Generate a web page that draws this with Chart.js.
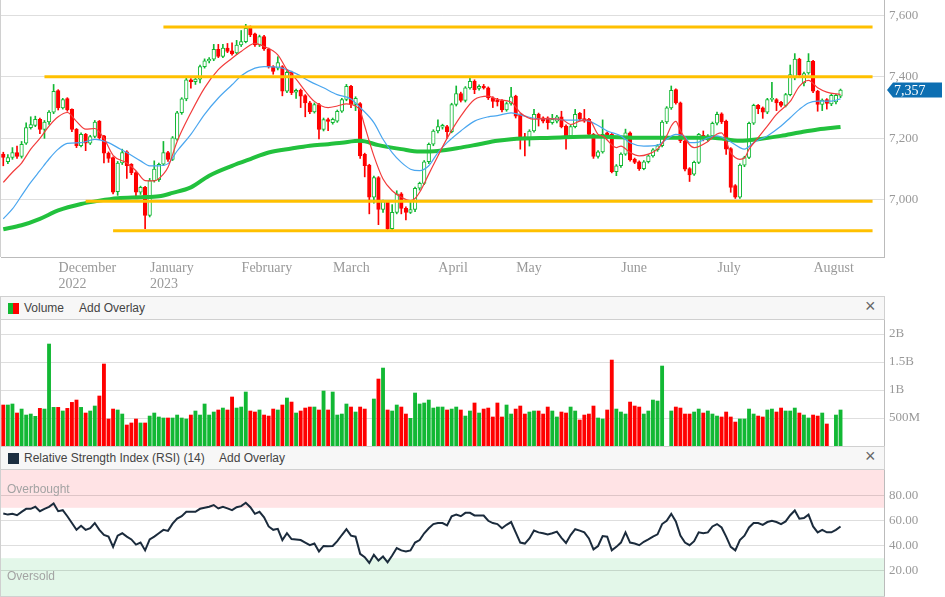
<!DOCTYPE html>
<html>
<head>
<meta charset="utf-8">
<title>S&amp;P/ASX 200 daily</title>
<script src="https://cdn.jsdelivr.net/npm/chart.js@4.4.1/dist/chart.umd.min.js"></script>
<style>
html, body { margin: 0; padding: 0; background: #fff; }
#page { position: relative; width: 945px; height: 597px; overflow: hidden; font-family: "Liberation Sans", Arial, sans-serif; }
canvas { position: absolute; left: 0; }
.head { position: absolute; left: 0; width: 885px; height: 24px; box-sizing: border-box; background: #f7f7f7; border: 1px solid #d0d0d0; font-size: 12px; color: #444; }
.head span { position: absolute; top: 4px; }
.icon { position: absolute; left: 7px; top: 6px; width: 11px; height: 11px; }
.head .close { left: 864px; top: -1px; font-size: 18px; color: #666; }
.zone { position: absolute; left: 7px; font-size: 12px; color: #a3a3a3; }
.edge { position: absolute; background: #d0d0d0; }
</style>
</head>
<body>
<div id="page">
  <canvas id="price" width="945" height="292" style="top:0"></canvas>
  <div class="edge" style="left:0;top:0;width:1px;height:257px"></div>

  <div class="head" style="top:296px">
    <div class="icon" style="background:linear-gradient(90deg,#12b834 50%,#ff0000 50%)"></div>
    <span style="left:23px">Volume</span>
    <span style="left:78px">Add Overlay</span>
    <span class="close">&times;</span>
  </div>
  <canvas id="volume" width="945" height="126" style="top:320px"></canvas>

  <div class="head" style="top:446px">
    <div class="icon" style="background:#1c2e40"></div>
    <span style="left:23px">Relative Strength Index (RSI) (14)</span>
    <span style="left:218px">Add Overlay</span>
    <span class="close">&times;</span>
  </div>
  <canvas id="rsi" width="945" height="126" style="top:470px"></canvas>
  <div class="zone" style="top:482px">Overbought</div>
  <div class="zone" style="top:569px">Oversold</div>
  <div class="edge" style="left:0;top:320px;width:1px;height:277px"></div>
  <div class="edge" style="left:0;top:596px;width:885px;height:1px"></div>
</div>

<script>
// trading days per month (last 9 August days are empty space on the right)
var monthKeys = ['2022-11', '2022-12', '2023-01', '2023-02', '2023-03', '2023-04', '2023-05', '2023-06', '2023-07', '2023-08'];
var monthDays = [
    [16, 17, 18, 21, 22, 23, 24, 25, 28, 29, 30],
    [1, 2, 5, 6, 7, 8, 9, 12, 13, 14, 15, 16, 19, 20, 21, 22, 23, 28, 29, 30],
    [3, 4, 5, 6, 9, 10, 11, 12, 13, 16, 17, 18, 19, 20, 23, 24, 25, 27, 30, 31],
    [1, 2, 3, 6, 7, 8, 9, 10, 13, 14, 15, 16, 17, 20, 21, 22, 23, 24, 27, 28],
    [1, 2, 3, 6, 7, 8, 9, 10, 13, 14, 15, 16, 17, 20, 21, 22, 23, 24, 27, 28, 29, 30, 31],
    [3, 4, 5, 6, 11, 12, 13, 14, 17, 18, 19, 20, 21, 24, 26, 27, 28],
    [1, 2, 3, 4, 5, 8, 9, 10, 11, 12, 15, 16, 17, 18, 19, 22, 23, 24, 25, 26, 29, 30, 31],
    [1, 2, 5, 6, 7, 8, 9, 13, 14, 15, 16, 19, 20, 21, 22, 23, 26, 27, 28, 29, 30],
    [3, 4, 5, 6, 7, 10, 11, 12, 13, 14, 17, 18, 19, 20, 21, 24, 25, 26, 27, 28, 31],
    [1, 2, 3, 4, 7, 8, 9, 10, 11, 14, 15, 16, 17, 18, 21, 22, 23]
];
var monthTicks = {
    '2022-12': ['December', '2022'], '2023-01': ['January', '2023'], '2023-02': 'February',
    '2023-03': 'March', '2023-04': 'April', '2023-05': 'May', '2023-06': 'June',
    '2023-07': 'July', '2023-08': 'August'
};
var yearStart = '2023-01';

var opens = [
    7149, 7124, 7138, 7154, 7141, 7184, 7235, 7242, 7262, 7229,
    7253, 7285, 7355, 7299, 7329, 7294, 7229, 7176, 7213, 7184,
    7206, 7256, 7208, 7152, 7138, 7027, 7120, 7156, 7116, 7089,
    7025, 7041, 6950, 7063, 7066, 7116, 7154, 7132, 7197, 7283,
    7328, 7390, 7384, 7392, 7433, 7451, 7457, 7489, 7466, 7493,
    7484, 7477, 7503, 7514, 7560, 7539, 7503, 7530, 7490, 7433,
    7428, 7433, 7353, 7414, 7350, 7356, 7339, 7315, 7286, 7310,
    7229, 7261, 7251, 7256, 7288, 7326, 7369, 7310, 7313, 7148,
    7113, 7009, 7073, 6969, 6995, 6907, 6960, 7020, 6973, 6960,
    6969, 7038, 7054, 7124, 7181, 7224, 7236, 7238, 7222, 7310,
    7345, 7323, 7364, 7385, 7362, 7369, 7364, 7331, 7324, 7323,
    7292, 7313, 7337, 7278, 7205, 7199, 7224, 7278, 7267, 7267,
    7251, 7256, 7270, 7240, 7208, 7238, 7281, 7264, 7262, 7213,
    7141, 7156, 7218, 7213, 7092, 7111, 7149, 7218, 7133, 7124,
    7102, 7124, 7143, 7163, 7176, 7253, 7299, 7358, 7315, 7192,
    7102, 7084, 7122, 7210, 7195, 7208, 7249, 7280, 7256, 7167,
    7047, 7009, 7113, 7138, 7249, 7307, 7299, 7285, 7326, 7326,
    7317, 7307, 7342, 7396, 7457, 7380, 7412, 7450, 7353, 7310,
    7326, 7312, 7318, 7337
];
var highs = [
    7155, 7147, 7170, 7175, 7190, 7250, 7270, 7272, 7266, 7258,
    7290, 7375, 7358, 7330, 7332, 7296, 7232, 7218, 7216, 7210,
    7258, 7258, 7210, 7156, 7140, 7125, 7165, 7160, 7118, 7092,
    7045, 7044, 7070, 7127, 7120, 7190, 7158, 7206, 7288, 7332,
    7395, 7394, 7398, 7438, 7458, 7462, 7505, 7505, 7505, 7508,
    7510, 7518, 7550, 7570, 7565, 7542, 7535, 7534, 7493, 7436,
    7465, 7436, 7420, 7418, 7360, 7360, 7342, 7320, 7315, 7314,
    7266, 7266, 7266, 7292, 7330, 7375, 7372, 7335, 7316, 7152,
    7116, 7078, 7076, 7000, 6998, 6985, 7030, 7024, 6978, 6998,
    7042, 7058, 7128, 7185, 7228, 7260, 7246, 7242, 7314, 7370,
    7350, 7368, 7395, 7390, 7374, 7375, 7367, 7335, 7330, 7326,
    7318, 7366, 7340, 7280, 7216, 7228, 7294, 7282, 7270, 7270,
    7278, 7275, 7288, 7244, 7242, 7294, 7284, 7294, 7265, 7216,
    7160, 7260, 7221, 7216, 7115, 7153, 7230, 7221, 7136, 7127,
    7128, 7147, 7167, 7180, 7258, 7303, 7370, 7361, 7318, 7195,
    7105, 7126, 7216, 7224, 7212, 7253, 7285, 7283, 7259, 7170,
    7050, 7117, 7142, 7253, 7311, 7310, 7302, 7330, 7382, 7329,
    7320, 7346, 7438, 7475, 7460, 7415, 7475, 7453, 7356, 7328,
    7329, 7344, 7344, 7360
];
var lows = [
    7111, 7118, 7132, 7135, 7136, 7180, 7230, 7238, 7215, 7200,
    7245, 7280, 7292, 7295, 7288, 7222, 7170, 7172, 7160, 7180,
    7202, 7196, 7120, 7122, 7020, 7015, 7115, 7070, 7082, 7010,
    7018, 6907, 6945, 7058, 7060, 7112, 7125, 7128, 7193, 7278,
    7322, 7363, 7375, 7380, 7428, 7445, 7452, 7462, 7462, 7478,
    7470, 7472, 7498, 7510, 7530, 7498, 7498, 7485, 7428, 7408,
    7422, 7338, 7348, 7342, 7330, 7300, 7270, 7280, 7282, 7198,
    7224, 7225, 7246, 7252, 7284, 7322, 7300, 7290, 7135, 7075,
    6955, 6990, 6920, 6960, 6904, 6903, 6955, 6955, 6935, 6956,
    6962, 7032, 7050, 7118, 7176, 7218, 7230, 7200, 7218, 7305,
    7318, 7318, 7360, 7345, 7356, 7360, 7326, 7300, 7305, 7286,
    7288, 7308, 7266, 7165, 7143, 7175, 7220, 7240, 7250, 7230,
    7246, 7250, 7234, 7165, 7204, 7234, 7258, 7252, 7208, 7135,
    7136, 7152, 7204, 7088, 7079, 7106, 7145, 7126, 7118, 7096,
    7098, 7120, 7139, 7158, 7172, 7248, 7294, 7311, 7186, 7094,
    7060, 7080, 7118, 7192, 7190, 7204, 7244, 7248, 7148, 7025,
    7005, 7005, 7108, 7134, 7245, 7280, 7265, 7280, 7320, 7290,
    7302, 7302, 7338, 7390, 7400, 7370, 7408, 7348, 7288, 7290,
    7295, 7306, 7312, 7332
];
var closes = [
    7138, 7138, 7154, 7141, 7181, 7235, 7245, 7262, 7229, 7253,
    7285, 7353, 7299, 7326, 7292, 7229, 7176, 7213, 7184, 7206,
    7253, 7202, 7152, 7135, 7025, 7120, 7154, 7111, 7089, 7025,
    7041, 6950, 7063, 7100, 7116, 7154, 7132, 7202, 7283, 7328,
    7390, 7384, 7392, 7433, 7452, 7457, 7489, 7466, 7493, 7482,
    7474, 7503, 7514, 7557, 7536, 7503, 7530, 7490, 7433, 7417,
    7446, 7353, 7414, 7348, 7356, 7337, 7315, 7286, 7310, 7229,
    7261, 7255, 7262, 7288, 7326, 7369, 7310, 7330, 7143, 7111,
    7009, 7073, 6969, 6995, 6907, 6960, 7020, 6973, 6960, 6969,
    7038, 7054, 7124, 7181, 7224, 7238, 7242, 7222, 7310, 7345,
    7323, 7364, 7385, 7358, 7369, 7364, 7331, 7320, 7318, 7292,
    7313, 7335, 7272, 7199, 7199, 7224, 7278, 7262, 7256, 7251,
    7262, 7270, 7238, 7208, 7238, 7278, 7262, 7256, 7213, 7141,
    7156, 7213, 7208, 7092, 7111, 7149, 7218, 7130, 7122, 7102,
    7124, 7143, 7163, 7176, 7253, 7299, 7356, 7315, 7192, 7100,
    7081, 7122, 7213, 7205, 7208, 7249, 7278, 7253, 7165, 7041,
    7009, 7113, 7138, 7249, 7307, 7296, 7285, 7326, 7330, 7315,
    7307, 7342, 7407, 7457, 7407, 7410, 7450, 7353, 7310, 7324,
    7313, 7340, 7340, 7357
];

// volume in millions, null where the bar is missing
var volumeM = [
    732, 732, 750, 589, 660, 553, 571, 530, 672, 660,
    1821, 690, 690, 625, 672, 779, 821, 690, 589, 625,
    714, 893, 1464, 482, 660, 643, 571, 375, 411, 482,
    411, 411, 535, 589, 518, 500, 500, 500, 553, 500,
    482, 553, 625, 553, 750, 553, 607, 643, 678, 643,
    875, 678, 696, 964, 625, 607, 643, 553, 535, 660,
    643, 732, 857, 785, 589, 625, 678, 696, 696, 643,
    982, 643, 964, 553, 571, 750, 696, 607, 696, 660,
    null, 839, 1196, 1392, 643, 625, 732, 696, 571, 494,
    946, 750, 768, 821, 678, 696, 696, 643, 660, 696,
    643, 535, 625, 768, 589, 660, 678, 518, 768, 518,
    732, 571, 660, 714, 571, 607, 625, 625, 571, 696,
    625, 518, 607, 589, 696, 625, 464, 553, 571, 714,
    500, 482, 643, 1535, 660, 607, 571, 785, 714, 696,
    571, 625, 821, 803, 1428, null, 625, 696, 678, 571,
    571, 607, 660, 589, 625, 571, 535, 518, 607, 518,
    428, 482, 482, 660, 571, 535, 518, 643, 660, 607,
    678, 625, 625, 678, 589, 553, 500, 553, 535, 589,
    393, null, 553, 643
];

var rsi = [
    65.4, 64.6, 65.2, 64.1, 66.8, 69.2, 69.2, 70.8, 67.3, 69.2,
    70.8, 73.5, 67.3, 68.1, 63.3, 57.9, 52.5, 55.7, 52.5, 53.8,
    57.9, 52.5, 48.4, 47.1, 39.0, 47.9, 49.8, 47.1, 44.9, 40.8,
    42.4, 36.2, 44.9, 47.1, 49.8, 52.5, 51.7, 57.4, 61.4, 63.3,
    66.8, 66.8, 66.8, 69.2, 70.0, 70.8, 72.2, 69.5, 70.8, 69.5,
    68.1, 70.5, 71.3, 74.0, 70.5, 65.2, 66.8, 62.5, 55.2, 52.5,
    53.3, 44.4, 49.8, 45.2, 44.9, 44.4, 42.4, 40.3, 41.7, 35.4,
    39.7, 39.5, 39.7, 43.5, 48.4, 53.0, 47.9, 47.1, 33.5, 30.8,
    26.2, 32.7, 28.1, 31.3, 26.7, 32.1, 38.1, 36.2, 35.4, 36.2,
    42.4, 44.4, 49.8, 53.8, 57.1, 57.9, 57.9, 56.0, 63.3, 64.6,
    63.3, 66.0, 66.0, 63.9, 63.9, 63.9, 59.7, 57.9, 57.1, 53.8,
    56.5, 58.7, 50.5, 42.4, 41.6, 45.7, 51.9, 50.5, 49.8, 48.9,
    49.8, 51.1, 46.2, 42.1, 48.4, 53.0, 51.9, 50.5, 45.7, 37.0,
    39.7, 47.6, 47.1, 36.2, 39.0, 42.4, 50.5, 42.4, 41.6, 40.3,
    43.0, 44.9, 47.1, 48.9, 57.1, 59.7, 65.2, 59.2, 47.9, 42.4,
    40.3, 43.5, 50.5, 49.8, 50.5, 55.2, 57.1, 54.4, 47.1, 39.0,
    36.2, 44.4, 47.9, 54.4, 57.9, 57.9, 56.5, 58.7, 59.7, 58.7,
    57.1, 59.2, 64.1, 67.9, 61.4, 61.9, 64.6, 55.2, 50.5, 52.5,
    50.5, 50.5, 52.5, 55.2
];
var overbought = 70, oversold = 30;

// moving averages as [bar index, value]
var maFast = [
    [0, 7057], [2, 7090], [4, 7120], [6, 7165], [8, 7200], [10, 7240], [12, 7270], [14, 7284],
    [16, 7255], [18, 7230], [20, 7232], [22, 7200], [24, 7145], [27, 7120], [29, 7095], [31, 7063],
    [33, 7062], [35, 7084], [36, 7106], [38, 7190], [41, 7283], [44, 7364], [47, 7423], [50, 7460],
    [52, 7482], [54, 7503], [55, 7508], [57, 7498], [60, 7471], [62, 7423], [64, 7392], [66, 7353],
    [68, 7320], [71, 7300], [73, 7305], [75, 7312], [77, 7305], [78, 7290], [79, 7240], [81, 7143],
    [83, 7068], [85, 7030], [87, 7009], [89, 6998], [90, 7005], [91, 7025], [93, 7084], [95, 7143],
    [97, 7200], [100, 7272], [103, 7326], [106, 7337], [108, 7326], [111, 7318], [113, 7283],
    [116, 7262], [118, 7264], [122, 7262], [124, 7245], [126, 7256], [128, 7260], [130, 7213],
    [131, 7208], [134, 7170], [135, 7175], [137, 7154], [139, 7143], [141, 7149], [143, 7165],
    [145, 7208], [146, 7240], [147, 7255], [148, 7225], [151, 7170], [154, 7190], [156, 7214],
    [157, 7218], [159, 7154], [161, 7132], [162, 7136], [163, 7165], [165, 7202], [167, 7240],
    [169, 7278], [172, 7320], [174, 7369], [176, 7388], [178, 7364], [180, 7350], [183, 7342]
];
var maMid = [
    [0, 6939], [2, 6971], [4, 7014], [6, 7057], [8, 7095], [10, 7133], [12, 7165], [14, 7184],
    [17, 7186], [20, 7197], [23, 7186], [25, 7170], [27, 7154], [30, 7127], [32, 7111], [34, 7111],
    [36, 7118], [38, 7159], [41, 7213], [44, 7278], [47, 7331], [50, 7374], [52, 7403], [55, 7428],
    [57, 7433], [60, 7431], [62, 7423], [64, 7410], [67, 7385], [70, 7364], [73, 7342], [76, 7328],
    [78, 7300], [81, 7251], [83, 7197], [85, 7154], [87, 7122], [89, 7100], [91, 7095], [93, 7111],
    [95, 7154], [97, 7186], [100, 7224], [103, 7256], [106, 7270], [108, 7274], [111, 7283],
    [114, 7272], [117, 7264], [120, 7264], [123, 7259], [126, 7259], [128, 7256], [130, 7242],
    [132, 7224], [135, 7208], [137, 7186], [140, 7175], [143, 7178], [145, 7197], [147, 7213],
    [149, 7205], [150, 7186], [152, 7188], [154, 7202], [156, 7208], [158, 7197], [161, 7170],
    [162, 7165], [164, 7186], [167, 7208], [170, 7240], [172, 7267], [174, 7294], [176, 7315],
    [178, 7321], [181, 7321], [183, 7328]
];
var maSlow = [
    [0, 6905], [4, 6918], [8, 6939], [12, 6966], [17, 6987], [21, 6998], [25, 7006], [30, 7009],
    [34, 7012], [37, 7023], [41, 7041], [45, 7079], [50, 7111], [54, 7133], [58, 7154], [63, 7167],
    [67, 7176], [71, 7181], [74, 7186], [78, 7192], [82, 7178], [87, 7165], [91, 7157], [95, 7159],
    [100, 7170], [104, 7181], [108, 7192], [111, 7197], [120, 7202], [129, 7206], [140, 7202],
    [148, 7202], [155, 7202], [161, 7192], [165, 7197], [170, 7208], [174, 7219], [178, 7229],
    [183, 7237]
];

// support / resistance lines
var levelValues = [7561, 7400, 6996, 6900];
var levelFrom = [35, 9, 18, 24];
var levelTo = 190;

var bull = '#12b834', bear = '#ff0000';

var labels = [];
monthKeys.forEach(function(m, k) {
    monthDays[k].forEach(function(d) {
        labels.push(m + '-' + String(d).padStart(2, '0'));
    });
});

var up = opens.map(function(o, i) { return closes[i] >= o; });
var candleColor = up.map(function(u) { return u ? bull : bear; });
var bodyFill = up.map(function(u) { return u ? '#ffffff' : bear; });

function isMonthStart(i) {
    return i > 0 && labels[i].slice(0, 7) !== labels[i - 1].slice(0, 7);
}

function gridColor(c) {
    if (!isMonthStart(c.index)) return 'rgba(0,0,0,0)';
    return labels[c.index].slice(0, 7) === yearStart ? 'rgba(0,0,0,0.36)' : 'rgba(0,0,0,0.13)';
}

function spread(points) {
    var arr = labels.map(function() { return null; });
    points.forEach(function(p) { arr[p[0]] = p[1]; });
    return arr;
}

function levelLine(k) {
    return labels.map(function(l, i) {
        return i >= levelFrom[k] && i <= levelTo ? levelValues[k] : null;
    });
}

function timeAxis(showLabels) {
    return {
        type: 'category',
        offset: true,
        border: { display: showLabels, color: '#bbbbbb' },
        grid: { offset: false, color: gridColor, drawTicks: showLabels, tickLength: 4 },
        ticks: {
            display: showLabels, autoSkip: false, maxRotation: 0, minRotation: 0,
            align: 'start', labelOffset: 5, padding: 0,
            color: '#999999', font: { family: 'Liberation Serif', size: 14, lineHeight: 1.1 },
            callback: function(v, i) {
                return isMonthStart(i) ? monthTicks[labels[i].slice(0, 7)] : null;
            }
        },
        afterFit: function(s) { s.height = showLabels ? 35 : 0; s.paddingLeft = 0; s.paddingRight = 0; }
    };
}

function valueAxis(min, max, values, fmt) {
    return {
        position: 'right', min: min, max: max,
        border: { color: '#bbbbbb' },
        grid: { color: 'rgba(0,0,0,0.13)', drawTicks: false },
        ticks: { padding: 5, color: '#999999', font: { family: 'Liberation Serif', size: 13 }, callback: fmt },
        afterBuildTicks: function(s) { s.ticks = values.map(function(v) { return { value: v }; }); },
        afterFit: function(s) { s.width = 61; s.paddingTop = 0; s.paddingBottom = 0; }
    };
}

function baseOptions(x, y) {
    return {
        responsive: false,
        animation: false,
        events: [],
        layout: { padding: { left: 1, top: 0, right: 0, bottom: 0 } },
        plugins: { legend: { display: false }, tooltip: { enabled: false } },
        scales: { x: x, y: y }
    };
}

var lastTag = {
    id: 'lastTag',
    afterDraw: function(chart) {
        var ctx = chart.ctx;
        var last = closes[closes.length - 1];
        var y = chart.scales.y.getPixelForValue(last);
        var x = chart.chartArea.right + 3;
        ctx.save();
        ctx.fillStyle = '#0d6fb2';
        ctx.beginPath();
        ctx.moveTo(x, y);
        ctx.lineTo(x + 6, y - 7.5);
        ctx.lineTo(x + 55, y - 7.5);
        ctx.lineTo(x + 55, y + 7.5);
        ctx.lineTo(x + 6, y + 7.5);
        ctx.closePath();
        ctx.fill();
        ctx.fillStyle = '#ffffff';
        ctx.font = '14px "Liberation Serif"';
        ctx.textBaseline = 'middle';
        ctx.fillText(last.toLocaleString('en-US'), x + 7, y + 1);
        ctx.restore();
    }
};

var zones = {
    id: 'zones',
    beforeDraw: function(chart) {
        var ctx = chart.ctx, a = chart.chartArea, y = chart.scales.y;
        var yOb = y.getPixelForValue(overbought), yOs = y.getPixelForValue(oversold);
        ctx.save();
        ctx.fillStyle = '#ffe3e5';
        ctx.fillRect(a.left, a.top, a.right - a.left, yOb - a.top);
        ctx.fillStyle = '#e3f7e9';
        ctx.fillRect(a.left, yOs, a.right - a.left, a.bottom - yOs);
        ctx.restore();
    }
};

var priceSets = levelValues.map(function(v, k) {
    return { type: 'line', data: levelLine(k), borderColor: '#ffc000', borderWidth: 3, pointRadius: 0, order: 0 };
});
priceSets.push(
    { type: 'line', data: spread(maFast), borderColor: '#f23c3c', borderWidth: 1.2, pointRadius: 0,
      spanGaps: true, cubicInterpolationMode: 'monotone', order: 1 },
    { type: 'line', data: spread(maMid), borderColor: '#4aa6ef', borderWidth: 1.2, pointRadius: 0,
      spanGaps: true, cubicInterpolationMode: 'monotone', order: 1 },
    { type: 'line', data: spread(maSlow), borderColor: '#22c13d', borderWidth: 4, pointRadius: 0,
      spanGaps: true, cubicInterpolationMode: 'monotone', order: 2 },
    { data: opens.map(function(o, i) { return [o, closes[i]]; }), backgroundColor: bodyFill,
      borderColor: candleColor, borderWidth: 1, borderSkipped: false, barThickness: 3.6, grouped: false, order: 3 },
    { data: lows.map(function(l, i) { return [l, highs[i]]; }), backgroundColor: candleColor,
      barThickness: 1, grouped: false, order: 4 }
);

new Chart(document.getElementById('price'), {
    type: 'bar',
    data: { labels: labels, datasets: priceSets },
    options: baseOptions(timeAxis(true), valueAxis(6815, 7649, [7000, 7200, 7400, 7600], function(v) {
        return v.toLocaleString('en-US');
    })),
    plugins: [lastTag]
});

new Chart(document.getElementById('volume'), {
    type: 'bar',
    data: {
        labels: labels,
        datasets: [{ data: volumeM, backgroundColor: candleColor, barThickness: 3.2 }]
    },
    options: baseOptions(timeAxis(false), valueAxis(0, 2250, [500, 1000, 1500, 2000], function(v) {
        return v >= 1000 ? (v / 1000) + 'B' : v + 'M';
    }))
});

new Chart(document.getElementById('rsi'), {
    type: 'line',
    data: {
        labels: labels,
        datasets: [{ data: rsi, borderColor: '#1b2b3c', borderWidth: 2, pointRadius: 0, tension: 0 }]
    },
    options: baseOptions(timeAxis(false), valueAxis(0, 100, [20, 40, 60, 80], function(v) {
        return v.toFixed(2);
    })),
    plugins: [zones]
});
</script>
</body>
</html>
